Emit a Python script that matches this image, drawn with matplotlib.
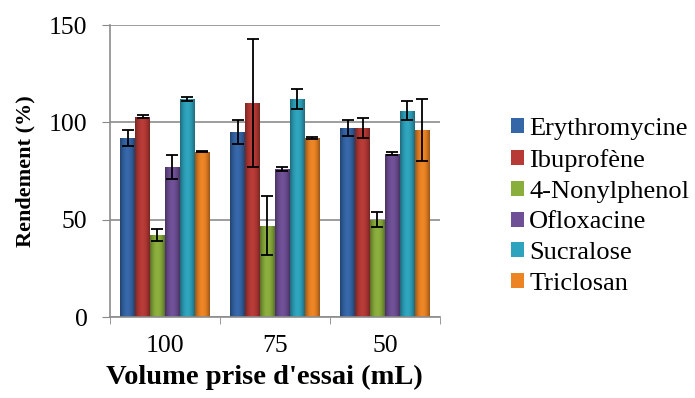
import numpy as np
import matplotlib
matplotlib.use("Agg")
import matplotlib.pyplot as plt
from matplotlib.colors import to_rgb
from matplotlib.patches import Patch

# data
volumes = ['100', '75', '50']
compounds = ['Erythromycine', 'Ibuprofène', '4-Nonylphenol',
             'Ofloxacine', 'Sucralose', 'Triclosan']
erythromycine = [92, 95, 97]
ibuprofene = [103, 110, 97]
nonylphenol = [42, 47, 50]
ofloxacine = [77, 76, 84]
sucralose = [112, 112, 106]
triclosan = [85, 92, 96]
err_erythromycine = [4, 6, 4]
err_ibuprofene = [1, 33, 5]
err_nonylphenol = [3, 15, 4]
err_ofloxacine = [6, 1, 1]
err_sucralose = [1, 5, 5]
err_triclosan = [0.3, 0.3, 16]

values = [erythromycine, ibuprofene, nonylphenol, ofloxacine, sucralose, triclosan]
errors = [err_erythromycine, err_ibuprofene, err_nonylphenol,
          err_ofloxacine, err_sucralose, err_triclosan]
colors = ['#3566a8', '#b73a36', '#8aae3c', '#6f4f96', '#2ea3bd', '#ec8424']

plt.rcParams['font.family'] = ['Liberation Serif', 'DejaVu Serif']

fig = plt.figure(figsize=(6.95, 3.98), dpi=100)
ax = fig.add_axes([0.158, 0.2035, 0.475, 0.7335])

x = np.arange(len(volumes))
width = 0.135
offsets = (np.arange(len(compounds)) - 2.5) * width


def shade(c, f):
    r = np.array(to_rgb(c))
    if f < 1:
        return r * f
    return r + (1 - r) * (f - 1)


for i, (vals, errs, col) in enumerate(zip(values, errors, colors)):
    bars = ax.bar(x + offsets[i], vals, width, color=col, edgecolor='none',
                  zorder=2)
    # horizontal gradient, darker at both sides
    prof = np.linspace(-1, 1, 40)
    fac = 1.02 - 0.38 * prof ** 2
    grad = np.array([shade(col, f) for f in fac])[None, :, :]
    for b in bars:
        x0, y0 = b.get_x(), b.get_y()
        im = ax.imshow(grad, extent=[x0, x0 + b.get_width(), y0, y0 + b.get_height()],
                       aspect='auto', zorder=2.1, interpolation='bicubic')
        im.set_clip_path(b)
    ax.errorbar(x + offsets[i], vals, yerr=errs, fmt='none', ecolor='black',
                elinewidth=1.3, capsize=4.5, capthick=1.3, zorder=3)

ax.set_xlim(-0.5, 2.5)
ax.set_ylim(0, 150)
ax.set_yticks([0, 50, 100, 150])
ax.set_xticks(x)
ax.set_xticklabels(volumes)
ax.set_xticks([-0.5, 0.5, 1.5, 2.5], minor=True)
ax.tick_params(axis='x', which='major', length=0, labelsize=18.5, pad=13)
ax.tick_params(axis='x', which='minor', length=5, color='#888888', direction='out')
ax.tick_params(axis='y', length=6, color='#888888', labelsize=18.5, direction='out',
               pad=10)
ax.yaxis.grid(True, color='#8c8c8c', linewidth=1.2, zorder=0)
ax.set_axisbelow(True)
for s in ['top', 'right']:
    ax.spines[s].set_visible(False)
for s in ['left', 'bottom']:
    ax.spines[s].set_color('#8c8c8c')
    ax.spines[s].set_linewidth(1.2)

ax.set_ylabel('Rendement (%)', fontsize=16, fontweight='bold', labelpad=10)
ax.set_xlabel("Volume prise d'essai (mL)", fontsize=20.5, fontweight='bold')
ax.xaxis.set_label_coords(0.467, -0.165)

handles = [Patch(facecolor=c, edgecolor='none') for c in colors]
fig.legend(handles, compounds, loc='center left', bbox_to_anchor=(0.735, 0.481),
           frameon=False, fontsize=19, handlelength=0.5, handleheight=0.5,
           handletextpad=0.2, labelspacing=0.33, borderpad=0, borderaxespad=0)

fig.savefig('out.png', dpi=100)
